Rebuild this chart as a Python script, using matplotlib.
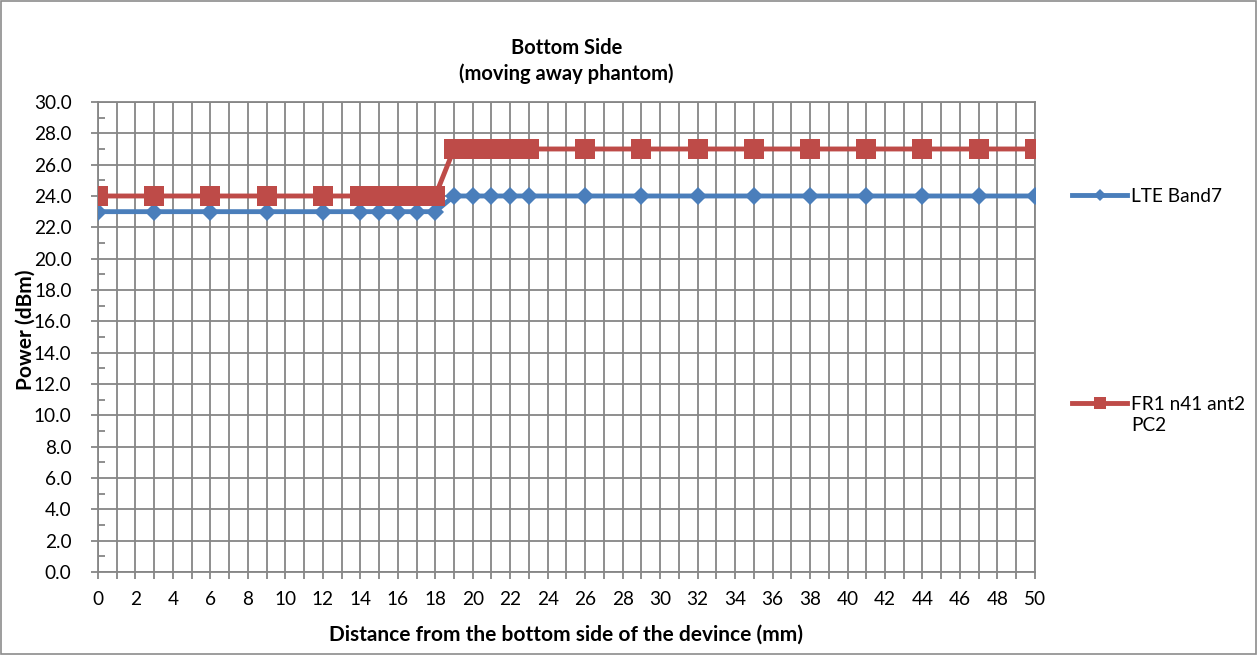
import matplotlib
matplotlib.use('Agg')
import matplotlib.pyplot as plt
from matplotlib.lines import Line2D
from matplotlib.patches import Rectangle
from matplotlib.legend_handler import HandlerLine2D
from matplotlib.ticker import MultipleLocator, FormatStrFormatter

plt.rcParams['font.family'] = ['Lato', 'DejaVu Sans']

distance = [0, 3, 6, 9, 12, 14, 15, 16, 17, 18, 19, 20, 21, 22, 23,
            26, 29, 32, 35, 38, 41, 44, 47, 50]
lte_band7 = [23, 23, 23, 23, 23, 23, 23, 23, 23, 23, 24, 24, 24, 24, 24,
             24, 24, 24, 24, 24, 24, 24, 24, 24]
fr1_n41 = [24, 24, 24, 24, 24, 24, 24, 24, 24, 24, 27, 27, 27, 27, 27,
           27, 27, 27, 27, 27, 27, 27, 27, 27]

blue = '#4A7EBB'
red = '#BE4B48'
grid_c = '#868686'


class HandlerFirstLine(HandlerLine2D):
    # put the legend line next to the first line of a two-line label
    def create_artists(self, legend, orig_handle, xdescent, ydescent,
                       width, height, fontsize, trans):
        return super().create_artists(legend, orig_handle, xdescent, ydescent,
                                      width, height + 18, fontsize, trans)


fig = plt.figure(figsize=(12.59, 6.55), dpi=100)
ax = fig.add_axes([0.0778, 0.1267, 0.7442, 0.7176])

ax.plot(distance, lte_band7, color=blue, lw=3.5, marker='D', ms=9.6,
        markeredgewidth=0, zorder=3)
ax.plot(distance, fr1_n41, color=red, lw=3.5, marker='s', ms=14,
        markeredgewidth=0, zorder=4)

ax.set_xlim(0, 50)
ax.set_ylim(0, 30)
ax.xaxis.set_major_locator(MultipleLocator(2))
ax.xaxis.set_minor_locator(MultipleLocator(1))
ax.yaxis.set_major_locator(MultipleLocator(2))
ax.yaxis.set_minor_locator(MultipleLocator(1))
ax.yaxis.set_major_formatter(FormatStrFormatter('%.1f'))

ax.grid(True, axis='x', which='both', color=grid_c, lw=1.3)
ax.grid(True, axis='y', which='major', color=grid_c, lw=1.3)
ax.set_axisbelow(True)

for s in ax.spines.values():
    s.set_color(grid_c)
    s.set_linewidth(1.3)
ax.tick_params(which='both', color=grid_c, width=1.3, labelsize=13.7,
               labelcolor='black')
ax.tick_params(axis='x', which='both', direction='out', length=5, pad=9)
ax.tick_params(axis='y', which='major', direction='out', length=5, pad=14)
ax.tick_params(axis='y', which='minor', direction='in', length=5)

ax.set_xlabel('Distance from the bottom side of the devince (mm)',
              fontsize=15, fontweight='bold', labelpad=12)
ax.set_ylabel('Power (dBm)', fontsize=15, fontweight='bold')
ax.yaxis.set_label_coords(-0.066, 0.515)
ax.set_title('Bottom Side\n(moving away phantom)', fontsize=14.5,
             fontweight='bold', pad=16, linespacing=1.3)

h1 = Line2D([], [], color=blue, lw=3.5, marker='D', ms=6, markeredgewidth=0)
h2 = Line2D([], [], color=red, lw=3.5, marker='s', ms=8, markeredgewidth=0)
leg1 = fig.legend([h1], ['LTE Band7'], loc='center left',
                  bbox_to_anchor=(0.8515, 1 - 196 / 655), frameon=False,
                  fontsize=13.7, handlelength=2.9, handletextpad=0.2,
                  borderaxespad=0, borderpad=0)
leg2 = fig.legend([h2], ['FR1 n41 ant2\nPC2'], loc='center left',
                  bbox_to_anchor=(0.8515, 1 - 415 / 655), frameon=False,
                  fontsize=13.7, handlelength=2.9, handletextpad=0.2,
                  borderaxespad=0, borderpad=0,
                  handler_map={Line2D: HandlerFirstLine()})
for t in leg2.get_texts():
    t.set_linespacing(1.3)

fig.add_artist(Rectangle((0.001, 0.002), 0.997, 0.996, transform=fig.transFigure,
                         fill=False, edgecolor='#8C8C8C', lw=1.2))

fig.savefig('out.png', dpi=100)
